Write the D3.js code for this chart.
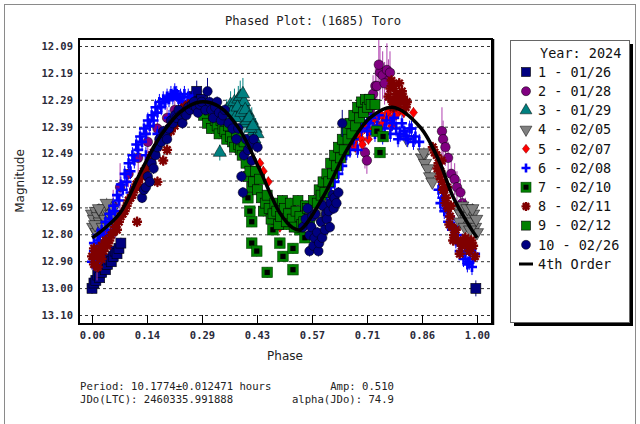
<!DOCTYPE html>
<html>
<head>
<meta charset="utf-8">
<script src="https://cdn.jsdelivr.net/npm/d3@7"></script>
<style>
  html, body { margin: 0; padding: 0; background: #fff; }
  svg { display: block; }
  .mono { font-family: "DejaVu Sans Mono", "Liberation Mono", monospace; }
  .sans { font-family: "DejaVu Sans", "Noto Sans", sans-serif; }
</style>
</head>
<body>
<svg id="chart" width="640" height="424"></svg>
<script>
// ---- data (phase, magnitude[, error]) ----
const title = "Phased Plot: (1685) Toro"
const xTicks = [0, 1/7, 2/7, 3/7, 4/7, 5/7, 6/7, 1]
const xTickLabels = ["0.00", "0.14", "0.29", "0.43", "0.57", "0.71", "0.86", "1.00"]
const yTicks = [12.09, 12.191, 12.292, 12.393, 12.494, 12.595, 12.696, 12.797, 12.898, 12.999, 13.10]
const yTickLabels = ["12.09", "12.19", "12.29", "12.39", "12.49", "12.59", "12.69", "12.80", "12.90", "13.00", "13.10"]

const s1 = [[0.000,13.00],[0.005,12.98],[0.010,12.97],[0.015,12.95],[0.020,12.96],[0.025,12.94],[0.030,12.92],
  [0.035,12.93],[0.040,12.91],[0.045,12.89],[0.050,12.90],[0.055,12.88],[0.060,12.86],[0.065,12.87],[0.070,12.85],
  [0.075,12.83],[0.265,12.28,0.03],[0.272,12.26,0.04],[0.285,12.29],[0.997,13.00,0.03]]
const s2 = [[0.013,12.92,0.05],[0.040,12.80,0.04],[0.055,12.69,0.06],[0.073,12.62,0.09],[0.095,12.57,0.05],
  [0.120,12.51,0.06],[0.145,12.45,0.04],[0.170,12.40,0.05],[0.195,12.36,0.04],[0.215,12.33,0.04],
  [0.695,12.40,0.05],[0.709,12.49,0.06],[0.714,12.52,0.05],[0.722,12.33,0.06],[0.727,12.30,0.07],
  [0.730,12.27,0.07],[0.736,12.24,0.08],[0.740,12.24,0.09],[0.748,12.19,0.10],[0.755,12.20,0.09],
  [0.766,12.18,0.10],[0.770,12.22,0.08],[0.774,12.19,0.08],[0.745,12.16,0.10],[0.760,12.23,0.08],
  [0.909,12.41,0.09],[0.912,12.44,0.07],
  [0.918,12.47,0.07],[0.925,12.51,0.06],[0.933,12.57,0.07],[0.942,12.59,0.06],[0.948,12.62,0.06],
  [0.957,12.64,0.05],[0.962,12.68,0.05],[0.970,12.71,0.05],[0.978,12.75,0.05]]
const s3 = [[0.332,12.49,0.03],[0.350,12.33,0.04],[0.360,12.31,0.05],[0.366,12.35,0.05],[0.370,12.30,0.05],
  [0.375,12.33,0.04],[0.380,12.29,0.05],[0.385,12.28,0.06],[0.390,12.32,0.05],[0.395,12.30,0.05],
  [0.400,12.35,0.05],[0.405,12.34,0.04],[0.410,12.38,0.05],[0.415,12.37,0.05],[0.420,12.41,0.04],
  [0.425,12.40,0.04],[0.430,12.42,0.04],[0.395,12.38,0.04],[0.385,12.36,0.05],[0.362,12.34,0.04],
  [0.372,12.36,0.04],[0.378,12.32,0.05],[0.388,12.34,0.05],[0.392,12.27,0.06],[0.398,12.33,0.05],
  [0.402,12.37,0.04],[0.408,12.36,0.05],[0.412,12.40,0.04],[0.418,12.39,0.04],[0.422,12.44,0.04]]
const s4 = [[0.000,12.72],[0.005,12.74],[0.010,12.71],[0.015,12.73],[0.020,12.75],[0.025,12.72],[0.030,12.70],
  [0.035,12.74],[0.040,12.71],[0.045,12.69],[0.050,12.72],[0.055,12.70],[0.003,12.77],[0.012,12.79],
  [0.008,12.76],[0.018,12.70],[0.028,12.77],[0.038,12.68],[0.048,12.75],[0.058,12.73],
  [0.590,12.74],[0.600,12.71],[0.610,12.68],[0.620,12.66],[0.818,12.44],[0.858,12.51],[0.862,12.49],
  [0.865,12.53],[0.872,12.55],[0.878,12.58],[0.884,12.60],[0.950,12.70],[0.958,12.72],[0.965,12.71],
  [0.972,12.74],[0.978,12.73],[0.985,12.75],[0.990,12.72],[0.995,12.77],[1.000,12.79],
  [0.955,12.75],[0.962,12.69],[0.968,12.77],[0.975,12.70],[0.982,12.78],[0.988,12.70],[0.998,12.74]]
const s5 = [[0.436,12.53],[0.445,12.56],[0.458,12.60],[0.472,12.72],[0.488,12.77],[0.670,12.47],[0.680,12.45],
  [0.688,12.43],[0.695,12.42],[0.700,12.44],[0.708,12.40],[0.715,12.38],[0.722,12.41],[0.730,12.37],
  [0.738,12.36],[0.745,12.39],[0.752,12.35],[0.760,12.37],[0.768,12.34],[0.775,12.36],[0.782,12.33],
  [0.790,12.35],[0.800,12.33],[0.810,12.34],[0.835,12.34],[0.684,12.47],[0.702,12.46],[0.718,12.44],
  [0.734,12.40],[0.756,12.38],[0.778,12.39]]
const s6 = [[0.000,12.90],[0.005,12.86],[0.010,12.88],[0.015,12.84],[0.020,12.82],[0.025,12.85],[0.030,12.80],
  [0.040,12.78],[0.050,12.74],[0.060,12.71],[0.070,12.67],[0.080,12.63],[0.090,12.60],[0.100,12.56],
  [0.110,12.52],[0.120,12.48],[0.130,12.45],[0.140,12.42],[0.150,12.39],[0.160,12.37],[0.170,12.34],
  [0.180,12.32],[0.190,12.30],[0.200,12.29],[0.210,12.28],[0.220,12.27],[0.230,12.28],[0.240,12.27],
  [0.250,12.28],[0.260,12.29],[0.020,12.89],[0.060,12.78],[0.100,12.64],[0.140,12.50],[0.170,12.42],
  [0.200,12.36],[0.005,12.83],[0.015,12.80],[0.025,12.78],[0.035,12.75],[0.045,12.72],[0.055,12.69],
  [0.065,12.65],[0.075,12.61],[0.085,12.57],[0.095,12.53],[0.105,12.50],[0.115,12.46],[0.125,12.43],
  [0.135,12.40],[0.145,12.37],[0.155,12.35],[0.165,12.32],[0.175,12.30],[0.185,12.29],[0.195,12.28],
  [0.205,12.27],[0.215,12.26],[0.225,12.29],[0.235,12.30],[0.245,12.31],[0.255,12.30],
  [0.600,12.68],[0.610,12.65],[0.620,12.62],[0.630,12.60],[0.640,12.57],[0.650,12.54],[0.660,12.50],
  [0.670,12.48],[0.680,12.44],[0.690,12.48],[0.700,12.40],[0.705,12.37],[0.715,12.41],[0.720,12.38],
  [0.725,12.36],[0.735,12.42],[0.740,12.39],[0.745,12.35],[0.755,12.43],[0.760,12.40],[0.765,12.37],
  [0.775,12.42],[0.780,12.38],[0.785,12.36],[0.790,12.40],[0.795,12.44],[0.800,12.42],[0.805,12.38],
  [0.810,12.41],[0.815,12.43],[0.820,12.44],[0.825,12.40],[0.830,12.40],[0.835,12.45],[0.840,12.43],
  [0.850,12.45],[0.900,12.63],[0.905,12.68],[0.910,12.66],[0.915,12.71],[0.920,12.70],[0.925,12.75],
  [0.930,12.73],[0.935,12.78],[0.940,12.77],[0.945,12.82],[0.950,12.80],[0.955,12.86],[0.960,12.84],
  [0.965,12.89],[0.970,12.87],[0.975,12.91],[0.980,12.90],[0.982,12.87],[0.987,12.92],[0.990,12.89],
  [0.995,12.87]]
const s7 = [[0.405,12.66],[0.410,12.71],[0.415,12.75],[0.415,12.83],[0.428,12.86],[0.455,12.94],[0.470,12.78],
  [0.480,12.74],[0.488,12.83],[0.496,12.88],[0.505,12.76],[0.522,12.85],[0.522,12.93],[0.540,12.78],
  [0.553,12.81],[0.740,12.41],[0.748,12.49],[0.756,12.43]]
const s8 = [[0.000,12.88],[0.005,12.91],[0.010,12.86],[0.015,12.92],[0.020,12.87],[0.025,12.84],[0.030,12.86],
  [0.035,12.82],[0.040,12.84],[0.050,12.80],[0.060,12.77],[0.070,12.75],[0.080,12.72],[0.090,12.69],
  [0.100,12.66],[0.110,12.63],[0.117,12.75],[0.120,12.60],[0.130,12.58],[0.140,12.55],[0.150,12.52],
  [0.160,12.49],[0.170,12.60],[0.170,12.47],[0.180,12.44],[0.185,12.52],[0.190,12.42],[0.195,12.48],
  [0.200,12.40],[0.210,12.37],[0.220,12.35],[0.230,12.33],[0.240,12.32],[0.250,12.31],
  [0.005,12.85],[0.015,12.88],[0.025,12.89],[0.045,12.82],[0.055,12.79],[0.065,12.78],[0.075,12.73],
  [0.085,12.71],[0.095,12.67],[0.105,12.65],[0.115,12.61],[0.125,12.62],[0.135,12.56],[0.145,12.54],
  [0.155,12.50],[0.165,12.48],[0.175,12.45],[0.205,12.41],[0.215,12.39],[0.225,12.37],[0.235,12.36],
  [0.245,12.34],
  [0.770,12.28],[0.775,12.25],[0.778,12.22],[0.780,12.30],[0.783,12.32],[0.785,12.24],[0.788,12.29],
  [0.790,12.27],[0.795,12.31],[0.798,12.23],[0.800,12.29],[0.805,12.26],[0.808,12.28],[0.810,12.30],
  [0.815,12.32],[0.818,12.30],
  [0.885,12.47],[0.890,12.49],[0.895,12.50],[0.897,12.55],[0.900,12.53],[0.903,12.58],[0.905,12.56],
  [0.908,12.52],[0.910,12.60],[0.912,12.63],[0.915,12.63],[0.918,12.68],[0.920,12.66],[0.922,12.62],
  [0.925,12.70],[0.928,12.76],[0.930,12.73],[0.932,12.69],[0.935,12.77],[0.938,12.82],[0.940,12.80],
  [0.945,12.78],[0.950,12.82],[0.955,12.87],[0.960,12.84],[0.965,12.82],[0.970,12.81],[0.975,12.84],
  [0.980,12.86],[0.985,12.82],[0.990,12.84],[0.995,12.88]]
const s9 = [[0.290,12.35],[0.295,12.31],[0.300,12.38],[0.305,12.33],[0.310,12.40],[0.315,12.35],[0.320,12.37],
  [0.325,12.39],[0.330,12.42],[0.335,12.37],[0.340,12.40],[0.345,12.41],[0.350,12.44],[0.355,12.39],
  [0.360,12.43],[0.365,12.45],[0.370,12.47],[0.375,12.42],[0.380,12.46],[0.385,12.48],[0.390,12.50],
  [0.395,12.45],[0.400,12.53],[0.405,12.58],[0.410,12.56],[0.415,12.62],[0.420,12.60],[0.425,12.56],
  [0.430,12.63],[0.435,12.59],[0.440,12.66],[0.445,12.71],[0.450,12.68],[0.455,12.65],[0.460,12.70],
  [0.465,12.74],[0.470,12.72],[0.475,12.68],[0.480,12.71],[0.485,12.76],[0.490,12.73],[0.495,12.67],
  [0.500,12.70],[0.505,12.75],[0.510,12.72],[0.515,12.68],[0.520,12.74],[0.525,12.77],[0.530,12.71],
  [0.535,12.67],[0.540,12.73],[0.545,12.76],[0.550,12.75],[0.555,12.69],[0.560,12.70],[0.565,12.74],
  [0.575,12.67],[0.585,12.68],[0.590,12.63],[0.595,12.65],[0.600,12.60],[0.605,12.64],[0.610,12.57],
  [0.615,12.60],[0.620,12.53],[0.625,12.57],[0.630,12.50],[0.635,12.54],[0.640,12.47],[0.645,12.51],
  [0.650,12.44],[0.655,12.48],[0.660,12.41],[0.665,12.44],[0.670,12.38],[0.675,12.42],[0.680,12.35],
  [0.685,12.39],[0.690,12.32],[0.695,12.36],[0.700,12.30],[0.705,12.34],[0.710,12.29],[0.715,12.32],
  [0.720,12.29],[0.725,12.31],[0.735,12.31]]
const s10 = [[0.130,12.66],[0.135,12.63],[0.140,12.62],[0.145,12.58],[0.150,12.60],[0.155,12.53],[0.160,12.55],
  [0.165,12.50],[0.170,12.47],[0.175,12.44],[0.180,12.45],[0.185,12.41],[0.190,12.42],[0.195,12.44],
  [0.200,12.40],[0.205,12.37],[0.210,12.38],[0.215,12.35],[0.220,12.36],[0.225,12.33],[0.230,12.35],
  [0.235,12.38],[0.240,12.34],[0.245,12.35],[0.250,12.32],[0.255,12.33],[0.260,12.31],[0.265,12.30],
  [0.270,12.32],[0.275,12.34],[0.280,12.31],[0.285,12.30],[0.295,12.33],[0.300,12.26,0.05],[0.305,12.30],
  [0.310,12.33],[0.315,12.36],[0.320,12.32],[0.325,12.30],[0.330,12.34],[0.335,12.37],[0.340,12.35],
  [0.345,12.33],[0.355,12.38],[0.365,12.40],[0.375,12.44],[0.380,12.40],[0.388,12.58],[0.392,12.64],
  [0.395,12.50],[0.400,12.44],[0.405,12.48],[0.410,12.46],[0.415,12.52],[0.420,12.44],[0.430,12.47],
  [0.548,12.77],[0.555,12.74],[0.560,12.70],[0.565,12.86],[0.565,12.80],[0.570,12.77],[0.572,12.73],
  [0.575,12.84],[0.578,12.81],[0.580,12.72],[0.585,12.79],[0.588,12.86],[0.590,12.83],[0.595,12.75],
  [0.598,12.81],[0.600,12.69],[0.605,12.78],[0.608,12.72],[0.610,12.74],[0.615,12.71],[0.618,12.77],
  [0.620,12.68],[0.625,12.65],[0.628,12.70],[0.630,12.66],[0.635,12.68],[0.640,12.64],[0.650,12.38,0.05]]

// 4th order fit
const fitPhase = [0.00, 0.02, 0.073, 0.125, 0.177, 0.229, 0.28, 0.332, 0.384, 0.436, 0.488, 0.522, 0.54,
  0.60, 0.662, 0.722, 0.78, 0.852, 0.904, 0.938, 0.982, 1.00]
const fitMag = [12.81, 12.79, 12.717, 12.567, 12.43, 12.338, 12.30, 12.319, 12.405, 12.556, 12.717, 12.773, 12.78,
  12.657, 12.48, 12.36, 12.32, 12.394, 12.53, 12.657, 12.77, 12.81]

const seriesNames = ["1 - 01/26", "2 - 01/28", "3 - 01/29", "4 - 02/05", "5 - 02/07",
  "6 - 02/08", "7 - 02/10", "8 - 02/11", "9 - 02/12", "10 - 02/26"]
const seriesData = [s1, s2, s3, s4, s5, s6, s7, s8, s9, s10]
const seriesColors = ["#000080", "#800080", "#008080", "#808080", "#ff0000",
  "#0000ff", "#008000", "#800000", "#008000", "#000080"]
const seriesShapes = ["square", "circle", "triangle", "triangleDown", "diamond",
  "plus", "boxDot", "star", "square", "circle"]
const seriesErr = [0.02, 0.05, 0.04, 0.02, 0.02, 0.03, 0.02, 0.02, 0.02, 0.02]

const footLeft = ["Period: 10.1774\u00b10.012471 hours", "JDo(LTC): 2460335.991888"]
const footRight = ["Amp: 0.510", "alpha(JDo): 74.9"]

// ---- layout ----
const box = { left: 79, right: 492, top: 39, bottom: 324 }
const svg = d3.select("#chart")

const x = d3.scaleLinear().domain([0, 1]).range([92, 477])
const y = d3.scaleLinear().domain([12.09, 13.10]).range([46, 315])

// outer frame
svg.append("rect").attr("x", 4.5).attr("y", 4.5).attr("width", 631).attr("height", 440)
  .attr("fill", "none").attr("stroke", "#8a8a8a").attr("stroke-width", 1)

svg.append("text").attr("class", "mono")
  .attr("x", 313).attr("y", 25).attr("text-anchor", "middle")
  .attr("font-size", 12.2).attr("fill", "#222").text(title)

svg.append("defs").append("clipPath").attr("id", "clip")
  .append("rect").attr("x", box.left + 1).attr("y", box.top + 1)
  .attr("width", box.right - box.left - 2).attr("height", box.bottom - box.top - 2)

// gridlines
svg.append("g")
  .attr("transform", `translate(${box.left},0)`)
  .call(d3.axisLeft(y).tickValues(yTicks).tickSize(-(box.right - box.left)).tickFormat(""))
  .call(g => g.select(".domain").remove())
  .call(g => g.selectAll("line").attr("stroke", "#333").attr("stroke-dasharray", "3,3"))

// y labels
svg.append("g")
  .attr("transform", `translate(${box.left},0)`)
  .call(d3.axisLeft(y).tickValues(yTicks).tickSize(0).tickPadding(6)
    .tickFormat((d, i) => yTickLabels[i]))
  .call(g => g.select(".domain").remove())
  .call(g => g.selectAll("text").attr("class", "mono").attr("font-size", 10.5)
    .attr("font-weight", "bold").attr("fill", "#2a2a3a"))

// x axis
svg.append("g")
  .attr("transform", `translate(0,${box.bottom})`)
  .call(d3.axisBottom(x).tickValues(xTicks).tickSize(-9).tickPadding(8)
    .tickFormat((d, i) => xTickLabels[i]))
  .call(g => g.select(".domain").remove())
  .call(g => g.selectAll("line").attr("stroke", "#000"))
  .call(g => g.selectAll("text").attr("class", "mono").attr("font-size", 10.5)
    .attr("font-weight", "bold").attr("fill", "#2a2a3a"))

svg.append("text").attr("class", "sans")
  .attr("x", 285).attr("y", 360).attr("text-anchor", "middle")
  .attr("font-size", 12).attr("fill", "#222").text("Phase")
svg.append("text").attr("class", "sans")
  .attr("transform", "translate(24,181) rotate(-90)").attr("text-anchor", "middle")
  .attr("font-size", 12).attr("fill", "#222").text("Magnitude")

// marker painter
function marker(g, shape, color, s) {
  const h = s / 2
  if (shape === "square") {
    g.append("rect").attr("x", -h).attr("y", -h).attr("width", s).attr("height", s)
      .attr("fill", color).attr("stroke", "#000").attr("stroke-width", 0.6)
  } else if (shape === "boxDot") {
    g.append("rect").attr("x", -h).attr("y", -h).attr("width", s).attr("height", s)
      .attr("fill", color).attr("stroke", "#004000").attr("stroke-width", 0.6)
    g.append("rect").attr("x", -h / 2).attr("y", -h / 2).attr("width", h).attr("height", h)
      .attr("fill", "#000")
  } else if (shape === "circle") {
    g.append("circle").attr("r", h).attr("fill", color).attr("stroke", "#000").attr("stroke-width", 0.5)
  } else if (shape === "triangle" || shape === "triangleDown") {
    g.append("path").attr("d", d3.symbol(d3.symbolTriangle, s * s * 0.75)())
      .attr("transform", shape === "triangleDown" ? "rotate(180)" : null)
      .attr("fill", color).attr("stroke", "#000").attr("stroke-width", 0.5)
  } else if (shape === "diamond") {
    g.append("path").attr("d", `M0,${-h}L${h * 0.8},0L0,${h}L${-h * 0.8},0Z`)
      .attr("fill", color).attr("stroke", "#800000").attr("stroke-width", 0.5)
  } else if (shape === "plus") {
    g.append("path").attr("d", `M${-h},0H${h}M0,${-h}V${h}`)
      .attr("stroke", color).attr("stroke-width", 2.6)
  } else if (shape === "star") {
    const r = h
    const d = d3.range(4).map(k => {
      const a = k * Math.PI / 4
      return `M${-r * Math.cos(a)},${-r * Math.sin(a)}L${r * Math.cos(a)},${r * Math.sin(a)}`
    }).join("")
    g.append("path").attr("d", d).attr("stroke", color).attr("stroke-width", 2.4)
  }
}

const plot = svg.append("g").attr("clip-path", "url(#clip)")

seriesData.forEach((data, si) => {
  const color = seriesColors[si]
  const size = si === 6 ? 10.5 : (seriesShapes[si] === "circle" ? 9.5 : 10)
  const layer = plot.append("g")
  // error bars
  layer.selectAll("line.err").data(data).join("line")
    .attr("class", "err")
    .attr("x1", d => x(d[0])).attr("x2", d => x(d[0]))
    .attr("y1", d => y(d[1] - (d[2] ?? seriesErr[si])))
    .attr("y2", d => y(d[1] + (d[2] ?? seriesErr[si])))
    .attr("stroke", si === 1 ? "#b040b0" : color).attr("stroke-width", 1)
  layer.selectAll("g.pt").data(data).join("g")
    .attr("class", "pt")
    .attr("transform", d => `translate(${x(d[0])},${y(d[1])})`)
    .each(function () { marker(d3.select(this), seriesShapes[si], color, size) })
})

// fit curve
plot.append("path")
  .datum(fitPhase.map((p, i) => [p, fitMag[i]]))
  .attr("d", d3.line().x(d => x(d[0])).y(d => y(d[1])).curve(d3.curveCatmullRom))
  .attr("fill", "none").attr("stroke", "#000").attr("stroke-width", 3.5)

// plot frame with shadow edge
svg.append("rect").attr("x", box.left).attr("y", box.top)
  .attr("width", box.right - box.left).attr("height", box.bottom - box.top)
  .attr("fill", "none").attr("stroke", "#000").attr("stroke-width", 2)
svg.append("line").attr("x1", box.right + 1.5).attr("x2", box.right + 1.5)
  .attr("y1", box.top).attr("y2", box.bottom + 1)
  .attr("stroke", "#000").attr("stroke-width", 1.5)

// legend
const lg = svg.append("g")
lg.append("rect").attr("x", 514).attr("y", 44).attr("width", 119).attr("height", 282).attr("fill", "#000")
lg.append("rect").attr("x", 510.5).attr("y", 40.5).attr("width", 119).attr("height", 282)
  .attr("fill", "#fff").attr("stroke", "#666").attr("stroke-width", 1)
lg.append("text").attr("class", "mono").attr("x", 540).attr("y", 53).attr("dy", "0.35em")
  .attr("font-size", 13.5).attr("fill", "#111").text("Year: 2024")

const rowY = i => 72 + i * 19.2
seriesNames.forEach((name, i) => {
  const g = lg.append("g").attr("transform", `translate(526,${rowY(i)})`)
  marker(g, seriesShapes[i], seriesColors[i], i === 6 ? 10 : 9)
  lg.append("text").attr("class", "mono").attr("x", 538).attr("y", rowY(i)).attr("dy", "0.35em")
    .attr("font-size", 13.5).attr("fill", "#111").text(name)
})
lg.append("line").attr("x1", 519).attr("x2", 533).attr("y1", rowY(10)).attr("y2", rowY(10))
  .attr("stroke", "#000").attr("stroke-width", 3)
lg.append("text").attr("class", "mono").attr("x", 538).attr("y", rowY(10)).attr("dy", "0.35em")
  .attr("font-size", 13.5).attr("fill", "#111").text("4th Order")

// footer
footLeft.forEach((t, i) => {
  svg.append("text").attr("class", "mono").attr("x", 80).attr("y", 390 + i * 13)
    .attr("font-size", 10.6).attr("fill", "#222").text(t)
})
footRight.forEach((t, i) => {
  svg.append("text").attr("class", "mono").attr("x", 394).attr("y", 390 + i * 13)
    .attr("text-anchor", "end").attr("font-size", 10.6).attr("fill", "#222").text(t)
})
</script>
</body>
</html>
